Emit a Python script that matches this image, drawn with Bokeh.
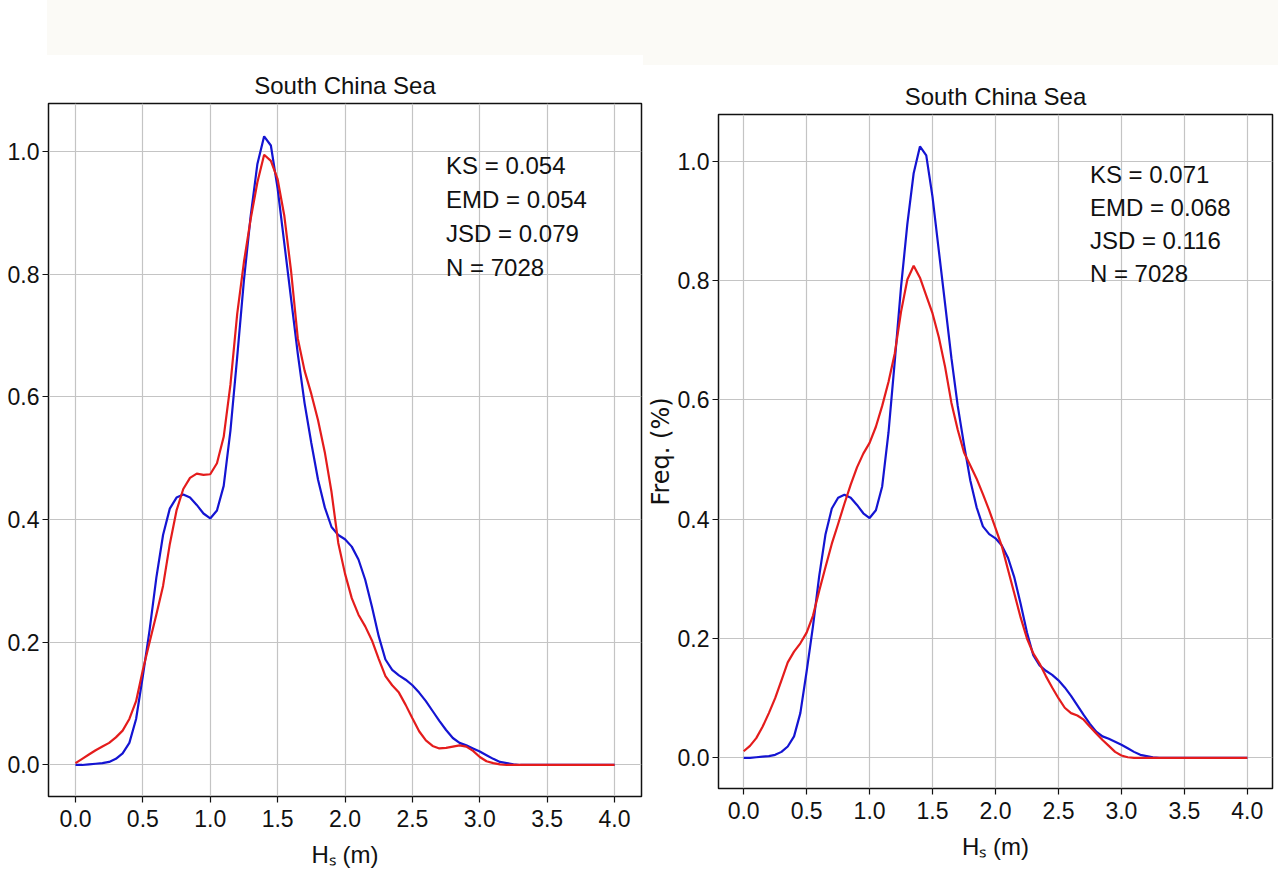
from bokeh.plotting import figure
from bokeh.models import Range1d, FixedTicker, PrintfTickFormatter, Label, Div
from bokeh.layouts import column, row
from bokeh.embed import file_html
from bokeh.resources import INLINE

# ---- data -------------------------------------------------------------
hs = [0.00, 0.05, 0.10, 0.15, 0.20, 0.25, 0.30, 0.35, 0.40, 0.45,
      0.50, 0.55, 0.60, 0.65, 0.70, 0.75, 0.80, 0.85, 0.90, 0.95,
      1.00, 1.05, 1.10, 1.15, 1.20, 1.25, 1.30, 1.35, 1.40, 1.45,
      1.50, 1.55, 1.60, 1.65, 1.70, 1.75, 1.80, 1.85, 1.90, 1.95,
      2.00, 2.05, 2.10, 2.15, 2.20, 2.25, 2.30, 2.35, 2.40, 2.45,
      2.50, 2.55, 2.60, 2.65, 2.70, 2.75, 2.80, 2.85, 2.90, 2.95,
      3.00, 3.05, 3.10, 3.15, 3.20, 3.25, 3.30, 3.50, 3.75, 4.00]

obs_freq = [0.000, 0.000, 0.001, 0.002, 0.003, 0.005, 0.010, 0.019, 0.036, 0.075,
            0.145, 0.220, 0.305, 0.375, 0.418, 0.436, 0.441, 0.436, 0.424, 0.410,
            0.402, 0.415, 0.455, 0.545, 0.665, 0.790, 0.895, 0.980, 1.025, 1.010,
            0.940, 0.850, 0.760, 0.670, 0.590, 0.525, 0.465, 0.420, 0.388, 0.375,
            0.368, 0.356, 0.335, 0.302, 0.258, 0.210, 0.172, 0.155, 0.146, 0.139,
            0.130, 0.118, 0.104, 0.088, 0.072, 0.057, 0.044, 0.036, 0.032, 0.027,
            0.022, 0.016, 0.010, 0.005, 0.003, 0.001, 0.000, 0.000, 0.000, 0.000]

model_left = [0.003, 0.010, 0.017, 0.024, 0.030, 0.036, 0.045, 0.056, 0.075, 0.104,
              0.155, 0.200, 0.245, 0.292, 0.360, 0.415, 0.450, 0.468, 0.475, 0.473,
              0.474, 0.492, 0.535, 0.620, 0.735, 0.820, 0.890, 0.950, 0.995, 0.985,
              0.955, 0.895, 0.805, 0.695, 0.643, 0.605, 0.562, 0.510, 0.445, 0.362,
              0.312, 0.272, 0.245, 0.226, 0.203, 0.173, 0.145, 0.130, 0.118, 0.098,
              0.076, 0.055, 0.040, 0.031, 0.027, 0.028, 0.030, 0.032, 0.030, 0.023,
              0.013, 0.006, 0.003, 0.001, 0.000, 0.000, 0.000, 0.000, 0.000, 0.000]

model_right = [0.011, 0.020, 0.033, 0.052, 0.075, 0.100, 0.130, 0.160, 0.178, 0.192,
               0.210, 0.238, 0.280, 0.320, 0.359, 0.392, 0.426, 0.458, 0.487, 0.510,
               0.528, 0.555, 0.590, 0.630, 0.678, 0.748, 0.802, 0.825, 0.805, 0.775,
               0.745, 0.705, 0.655, 0.595, 0.550, 0.512, 0.490, 0.468, 0.442, 0.415,
               0.385, 0.355, 0.315, 0.275, 0.235, 0.200, 0.175, 0.158, 0.137, 0.118,
               0.100, 0.084, 0.075, 0.071, 0.064, 0.052, 0.041, 0.030, 0.020, 0.010,
               0.004, 0.001, 0.000, 0.000, 0.000, 0.000, 0.000, 0.000, 0.000, 0.000]

x_ticks = [0.0, 0.5, 1.0, 1.5, 2.0, 2.5, 3.0, 3.5, 4.0]
y_ticks = [0.0, 0.2, 0.4, 0.6, 0.8, 1.0]

panel_title = "South China Sea"
stats_left = ["KS = 0.054", "EMD = 0.054", "JSD = 0.079", "N = 7028"]
stats_right = ["KS = 0.071", "EMD = 0.068", "JSD = 0.116", "N = 7028"]
x_label = "H\u209b (m)"
y_label = "Freq. (%)"

# ---- styling -----------------------------------------------------------
FONT = "Liberation Sans"
BLUE = "#1414d2"
RED = "#e41c1c"
INK = "#111111"
BAND = "#fbfaf6"


def make_panel(model, stats, width, height, bl, br, bt, bb, ylab):
    p = figure(width=width, height=height, output_backend="svg",
               toolbar_location=None,
               x_range=Range1d(-0.2, 4.2), y_range=Range1d(-0.0514, 1.0785),
               min_border_left=bl, min_border_right=br,
               min_border_top=bt, min_border_bottom=bb)
    p.title.text = panel_title
    p.title.align = "center"
    p.title.text_font = FONT
    p.title.text_font_size = "24px"
    p.title.text_font_style = "normal"
    p.title.text_color = INK
    p.title.standoff = 10

    p.background_fill_color = "white"
    p.border_fill_color = "white"
    p.outline_line_color = INK
    p.outline_line_width = 1.5

    for ax in (p.xaxis[0], p.yaxis[0]):
        ax.axis_line_color = None
        ax.major_tick_line_color = INK
        ax.major_tick_line_width = 1.2
        ax.major_tick_out = 6
        ax.major_tick_in = 0
        ax.minor_tick_line_color = None
        ax.major_label_text_font = FONT
        ax.major_label_text_font_size = "23px"
        ax.major_label_text_color = INK
        ax.formatter = PrintfTickFormatter(format="%.1f")
    p.xaxis.major_label_standoff = 7
    p.yaxis.major_label_standoff = 3
    p.xaxis.ticker = FixedTicker(ticks=x_ticks)
    p.yaxis.ticker = FixedTicker(ticks=y_ticks)

    p.xaxis.axis_label = x_label
    p.xaxis.axis_label_text_font = FONT
    p.xaxis.axis_label_text_font_size = "24px"
    p.xaxis.axis_label_text_font_style = "normal"
    p.xaxis.axis_label_text_color = INK
    p.xaxis.axis_label_standoff = 11
    if ylab:
        p.yaxis.axis_label = ylab
        p.yaxis.axis_label_text_font = "DejaVu Sans"
        p.yaxis.axis_label_text_font_size = "24px"
        p.yaxis.axis_label_text_font_style = "normal"
        p.yaxis.axis_label_text_color = INK
        p.yaxis.axis_label_standoff = 0

    p.xgrid.ticker = FixedTicker(ticks=x_ticks)
    p.ygrid.ticker = FixedTicker(ticks=y_ticks)
    p.grid.grid_line_color = "#c4c4c4"
    p.grid.grid_line_width = 1.2

    p.line(hs, obs_freq, line_color=BLUE, line_width=2.2)
    p.line(hs, model, line_color=RED, line_width=2.2)

    # one label per statistics line, stepping down from the top
    for i, s in enumerate(stats):
        p.add_layout(Label(x=2.75, y=0.978 - 0.0555 * i, text=s,
                           text_font=FONT, text_font_size="24px",
                           text_color=INK, text_baseline="middle",
                           text_align="left"))
    return p


left = make_panel(model_left, stats_left, 643, 819, 48, 2, 48, 78, None)
right = make_panel(model_right, stats_right, 635, 809, 74, 6, 49, 86, y_label)

band = Div(text="", width=1231, height=55, margin=(0, 0, 0, 47),
           styles={"background-color": BAND})
strip = Div(text="", width=635, height=10, margin=(0, 0, 0, 0),
            styles={"background-color": BAND})

layout = column(band,
                row(column(left, spacing=0), column(strip, right, spacing=0),
                    spacing=0),
                spacing=0)

open("out.html", "w").write(file_html(layout, INLINE))
